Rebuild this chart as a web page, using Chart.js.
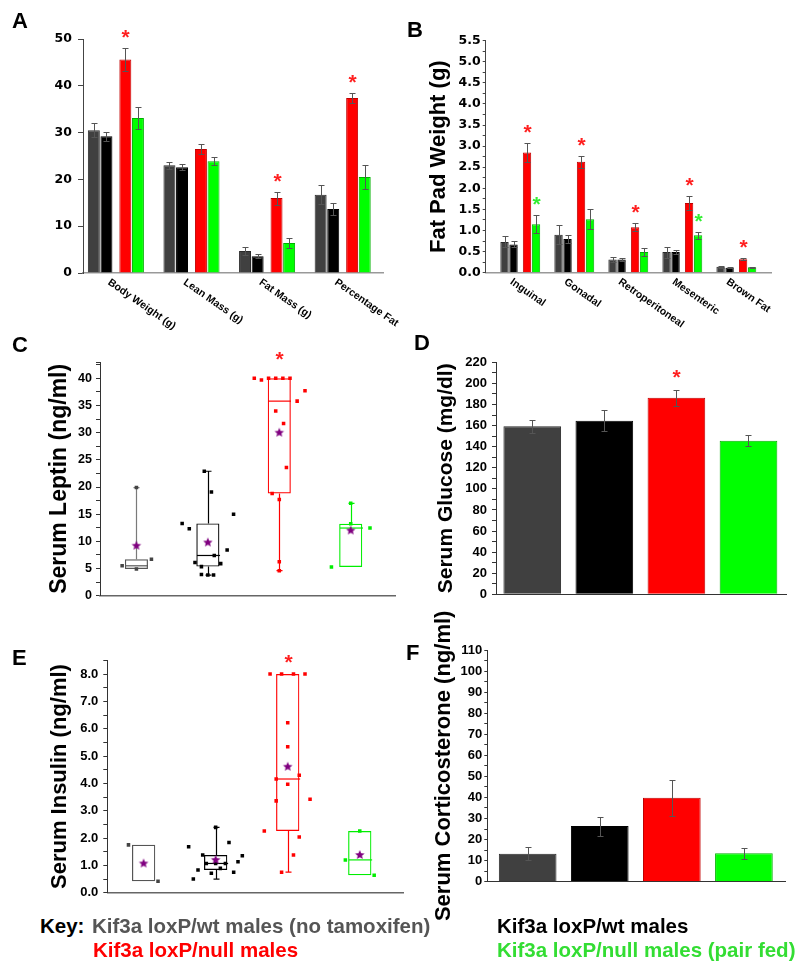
<!DOCTYPE html>
<html>
<head>
<meta charset="utf-8">
<script src="https://cdn.jsdelivr.net/npm/chart.js@4.4.0/dist/chart.umd.min.js"></script>
<style>
  body { margin: 0; background: #fff; }
  #fig { position: relative; width: 800px; height: 971px; overflow: hidden; font-family: Arial, 'Liberation Sans', sans-serif; }
  #fig canvas { position: absolute; }
  .panel { position: absolute; font-weight: bold; font-size: 22px; line-height: 1; }
  .key { position: absolute; font-weight: bold; font-size: 20.5px; line-height: 1; white-space: nowrap; }
</style>
</head>
<body>
<div id="fig">
  <canvas id="chartA" width="420" height="330" style="left:0;top:0"></canvas>
  <canvas id="chartB" width="400" height="330" style="left:400px;top:0"></canvas>
  <canvas id="chartC" width="400" height="280" style="left:0;top:330px"></canvas>
  <canvas id="chartD" width="400" height="280" style="left:400px;top:330px"></canvas>
  <canvas id="chartE" width="410" height="300" style="left:0;top:610px"></canvas>
  <canvas id="chartF" width="400" height="330" style="left:400px;top:610px"></canvas>

  <div class="panel" style="left:12px;top:10px">A</div>
  <div class="panel" style="left:407px;top:19px">B</div>
  <div class="panel" style="left:12px;top:334px">C</div>
  <div class="panel" style="left:414px;top:332px">D</div>
  <div class="panel" style="left:12px;top:647px">E</div>
  <div class="panel" style="left:406px;top:642px">F</div>

  <div class="key" style="left:40px;top:916px;color:#000">Key:</div>
  <div class="key" style="left:92px;top:916px;color:#555">Kif3a loxP/wt males (no tamoxifen)</div>
  <div class="key" style="left:497px;top:916px;color:#000">Kif3a loxP/wt males</div>
  <div class="key" style="left:93px;top:940px;color:#ff0000">Kif3a loxP/null males</div>
  <div class="key" style="left:497px;top:940px;color:#33dd33">Kif3a loxP/null males (pair fed)</div>
</div>

<script>
// groups: no tamoxifen, loxP/wt, loxP/null, loxP/null pair fed
const groups = ['Kif3a loxP/wt males (no tamoxifen)', 'Kif3a loxP/wt males', 'Kif3a loxP/null males', 'Kif3a loxP/null males (pair fed)'];

// A - body composition
const bodyCats = ['Body Weight (g)', 'Lean Mass (g)', 'Fat Mass (g)', 'Percentage Fat'];
const bodyMeans = [
  [30.5, 23.0, 4.7, 16.7],
  [29.2, 22.6, 3.6, 13.7],
  [45.6, 26.5, 16.0, 37.4],
  [33.1, 23.9, 6.4, 20.5]
];
const bodyErr = [
  [1.5, 0.7, 0.8, 2.0],
  [0.9, 0.6, 0.5, 1.3],
  [2.5, 1.1, 1.4, 1.1],
  [2.3, 0.9, 1.1, 2.5]
];
const bodySig = [[0, 0, 0, 0], [0, 0, 0, 0], [1, 0, 1, 1], [0, 0, 0, 0]];

// B - fat pads
const padCats = ['Inguinal', 'Gonadal', 'Retroperitoneal', 'Mesenteric', 'Brown Fat'];
const padMeans = [
  [0.73, 0.90, 0.31, 0.49, 0.14],
  [0.67, 0.80, 0.31, 0.49, 0.12],
  [2.85, 2.63, 1.08, 1.65, 0.32],
  [1.15, 1.27, 0.49, 0.89, 0.13]
];
const padErr = [
  [0.13, 0.22, 0.06, 0.13, 0.02],
  [0.07, 0.09, 0.04, 0.04, 0.01],
  [0.22, 0.14, 0.10, 0.16, 0.02],
  [0.22, 0.23, 0.09, 0.08, 0.01]
];
const padSig = [[0, 0, 0, 0, 0], [0, 0, 0, 0, 0], [1, 1, 1, 1, 1], [1, 0, 0, 1, 0]];

// C - leptin (box: q1, median, q3; whiskers: low, high)
const leptinBox = [[4.9, 5.5, 6.7], [5.35, 7.4, 13.3], [18.8, 35.8, 40.0], [5.3, 12.45, 13.25]];
const leptinWhisk = [[4.9, 19.9], [3.8, 22.9], [4.6, 40.0], [5.3, 17.0]];
const leptinMean = [9.2, 9.8, 30.0, 12.0];
const leptinPts = [
  [5.5, 4.9, 6.7, 19.9],
  [13.3, 12.3, 22.9, 19.1, 15.0, 8.4, 7.4, 6.1, 5.35, 5.9, 3.9, 3.8, 3.8],
  [40.0, 39.7, 40.0, 40.0, 40.0, 40.0, 37.7, 35.8, 34.0, 31.7, 23.6, 18.8, 17.7, 6.25, 4.6],
  [17.0, 13.25, 12.45, 5.3]
];
const leptinJitter = [
  [-0.2, 0, 0.21, 0],
  [-0.36, -0.26, -0.05, 0.05, 0.36, 0.27, 0.09, -0.18, -0.09, 0.18, -0.09, 0, 0.08],
  [-0.35, -0.25, -0.15, -0.05, 0.05, 0.15, 0.36, 0.25, -0.05, 0.06, 0.1, -0.1, 0, 0, 0],
  [0, 0, 0.27, -0.27]
];
const leptinSig = [0, 0, 1, 0];

// D - glucose
const glucoseMean = [159.3, 164.6, 186.4, 145.7];
const glucoseErr = [6.0, 10.0, 7.6, 5.3];
const glucoseSig = [0, 0, 1, 0];

// E - insulin
const insulinBox = [[0.42, null, 1.75], [0.83, 1.07, 1.38], [2.26, 4.16, 8.0], [0.64, 1.2, 2.26]];
const insulinWhisk = [[0.42, 1.75], [0.5, 2.39], [0.75, 8.0], [0.64, 2.26]];
const insulinMean = [1.07, 1.2, 4.61, 1.38];
const insulinPts = [
  [1.75, 0.42],
  [1.68, 0.5, 0.83, 1.38, 1.07, 0.71, 2.39, 1.07, 0.89, 1.07, 1.84, 0.75, 1.13, 1.35],
  [8.0, 8.0, 8.0, 8.0, 6.22, 5.34, 4.3, 4.16, 3.97, 3.36, 3.42, 2.26, 2.04, 1.38, 0.75],
  [2.26, 1.2, 0.64]
];
const insulinJitter = [
  [-0.21, 0.2],
  [-0.375, -0.31, -0.245, -0.18, -0.13, -0.06, 0, 0, 0.065, 0.135, 0.185, 0.25, 0.31, 0.37],
  [-0.245, -0.085, 0.08, 0.24, 0, 0, 0.16, -0.16, 0, -0.16, 0.31, -0.325, 0.16, 0.08, -0.085],
  [0, -0.2, 0.2]
];
const insulinSig = [0, 0, 1, 0];

// F - corticosterone
const corticoMean = [13.3, 26.4, 39.9, 13.5];
const corticoErr = [3.0, 4.5, 8.5, 2.5];

const FONT = "Arial, 'Liberation Sans', sans-serif";
const WIDE = "'DejaVu Sans', Arial, sans-serif";
const fills = ['#404040', '#000000', '#ff0000', '#00ff00'];
const edges = ['#2a2a2a', '#000000', '#c00000', '#00b000'];
const boxColors = ['#555555', '#000000', '#ff0000', '#00ee00'];
const whiskColors = ['#7a7a7a', '#000000', '#ff0000', '#00ee00'];
const sigColors = ['#ff0000', '#000000', '#ff2020', '#33ee33'];
const MEAN_COLOR = '#800080';
const PERIOD = 6;              // spacing between bar groups (A, B)
const OFFS = [0, 1, 2.5, 3.5]; // bar positions inside a group
const MID = 1.75;

Chart.defaults.animation = false;
Chart.defaults.responsive = false;
Chart.defaults.font.family = FONT;
Chart.defaults.plugins.legend.display = false;
Chart.defaults.plugins.tooltip.enabled = false;

function isMajor(v, major) {
  return Math.abs(v / major - Math.round(v / major)) < 1e-6;
}

function asterisk(ctx, x, cy, color) {
  ctx.save();
  ctx.fillStyle = color;
  ctx.font = 'bold 21px ' + FONT;
  ctx.textAlign = 'center';
  ctx.textBaseline = 'alphabetic';
  ctx.fillText('*', x, cy + 11.5);
  ctx.restore();
}

function makeStar(r, color) {
  const c = document.createElement('canvas');
  c.width = c.height = Math.ceil(2 * r + 2);
  const g = c.getContext('2d');
  g.fillStyle = color;
  g.beginPath();
  for (let k = 0; k < 10; k++) {
    const rr = k % 2 ? r * 0.45 : r;
    const a = -Math.PI / 2 + k * Math.PI / 5;
    g.lineTo(c.width / 2 + rr * Math.cos(a), c.height / 2 + rr * Math.sin(a));
  }
  g.closePath();
  g.fill();
  return c;
}
const meanStar = makeStar(5, MEAN_COLOR);

function yAxis(o) {
  return {
    min: 0, max: o.max, bounds: 'data',
    afterFit: s => { s.width = o.width; },
    border: { color: o.border || '#333', width: 1 },
    grid: { drawOnChartArea: false, drawTicks: true, tickLength: o.tl, color: o.border || '#333' },
    ticks: {
      stepSize: o.step, autoSkip: false, includeBounds: false, padding: o.pad, color: '#000',
      font: { family: o.family || FONT, size: o.size, weight: 'bold' },
      callback: v => isMajor(v, o.major) ? v.toFixed(o.dec) : ''
    },
    title: o.title ? {
      display: true, text: o.title, color: '#000',
      font: { family: FONT, size: o.tsize, weight: 'bold' },
      padding: { top: o.tpad, bottom: 0 }
    } : { display: false }
  };
}

function xAxis(o) {
  return {
    type: 'linear', min: o.min, max: o.max, offset: false, bounds: 'data',
    afterFit: s => { s.height = o.height; },
    afterBuildTicks: s => { s.ticks = o.at.map(v => ({ value: v })); },
    grid: { display: false },
    border: { color: o.color || '#333', width: o.bw || 1 },
    ticks: { display: false }
  };
}

// error bars + significance asterisks for bar datasets
const errorBars = {
  id: 'errorBars',
  afterDatasetsDraw(chart, args, o) {
    const { ctx, scales: { x, y } } = chart;
    ctx.save();
    ctx.strokeStyle = o.color;
    ctx.lineWidth = 1;
    chart.data.datasets.forEach(ds => {
      if (!ds.err) return;
      ds.data.forEach((pt, j) => {
        const e = ds.err[j];
        const px = Math.round(x.getPixelForValue(pt.x)) + 0.5;
        const top = Math.round(y.getPixelForValue(pt.y + e)) + 0.5;
        const bot = Math.round(y.getPixelForValue(pt.y - e)) + 0.5;
        ctx.beginPath();
        ctx.moveTo(px, top); ctx.lineTo(px, bot);
        ctx.moveTo(px - o.cap, top); ctx.lineTo(px + o.cap, top);
        ctx.moveTo(px - o.cap, bot); ctx.lineTo(px + o.cap, bot);
        ctx.stroke();
        const s = ds.sig && ds.sig[j];
        if (s) asterisk(ctx, px, top - o.gap, Array.isArray(ds.sigColor) ? ds.sigColor[j] : ds.sigColor);
      });
    });
    ctx.restore();
  }
};

// slanted category names under grouped bars
const slantLabels = {
  id: 'slantLabels',
  afterDraw(chart, args, o) {
    const { ctx, scales: { x }, chartArea } = chart;
    ctx.save();
    ctx.font = 'bold ' + o.size + 'px ' + FONT;
    ctx.fillStyle = '#000';
    ctx.textAlign = 'left';
    ctx.textBaseline = 'top';
    o.labels.forEach((t, i) => {
      const px = x.getPixelForValue(i * PERIOD + MID);
      ctx.save();
      ctx.translate(px + o.dx, chartArea.bottom + o.dy);
      ctx.rotate(35 * Math.PI / 180);
      ctx.fillText(t, 0, 0);
      ctx.restore();
    });
    ctx.restore();
  }
};

// medians, whiskers and significance for box plots
const boxLines = {
  id: 'boxLines',
  beforeDatasetsDraw(chart, args, o) {
    const { ctx, scales: { y } } = chart;
    const bars = chart.getDatasetMeta(0).data;
    ctx.save();
    ctx.lineWidth = 1.2;
    o.box.forEach((b, g) => {
      const el = bars[g];
      const cx = Math.round(el.x) + 0.5, hw = el.width / 2;
      const [lo, hi] = o.whisk[g];
      ctx.strokeStyle = boxColors[g];
      if (b[1] !== null) {
        const my = y.getPixelForValue(b[1]);
        ctx.beginPath(); ctx.moveTo(cx - hw, my); ctx.lineTo(cx + hw, my); ctx.stroke();
      }
      ctx.strokeStyle = whiskColors[g];
      ctx.beginPath();
      if (hi > b[2]) {
        const yh = y.getPixelForValue(hi);
        ctx.moveTo(cx, y.getPixelForValue(b[2])); ctx.lineTo(cx, yh);
        ctx.moveTo(cx - 3, yh); ctx.lineTo(cx + 3, yh);
      }
      if (lo < b[0]) {
        const yl = y.getPixelForValue(lo);
        ctx.moveTo(cx, y.getPixelForValue(b[0])); ctx.lineTo(cx, yl);
        ctx.moveTo(cx - 3, yl); ctx.lineTo(cx + 3, yl);
      }
      ctx.stroke();
      if (o.sig[g]) {
        const top = y.getPixelForValue(Math.max(hi, b[2]));
        asterisk(ctx, cx, top - o.gap, sigColors[g]);
      }
    });
    ctx.restore();
  }
};

function groupedBars(means, errs, sigs, bp) {
  return means.map((m, g) => ({
    data: m.map((v, c) => ({ x: c * PERIOD + OFFS[g], y: v })),
    err: errs[g], sig: sigs[g], sigColor: sigColors[g],
    backgroundColor: fills[g], borderColor: edges[g], borderWidth: 1,
    grouped: false, categoryPercentage: 1, barPercentage: bp
  }));
}

function simpleBars(mean, err, sig) {
  return [{
    data: mean.map((v, g) => ({ x: g, y: v })),
    err: err, sig: sig, sigColor: sigColors,
    backgroundColor: fills, borderColor: edges, borderWidth: 1,
    grouped: false, categoryPercentage: 1, barPercentage: 0.8
  }];
}

function boxSets(box, pts, jitter, mean) {
  const sets = [{
    type: 'bar',
    data: box.map((b, g) => ({ x: g, y: [b[0], b[2]] })),
    backgroundColor: 'rgba(0,0,0,0)', borderColor: boxColors, borderWidth: 1.2, borderSkipped: false,
    grouped: false, categoryPercentage: 1, barPercentage: 0.323, order: 3
  }];
  pts.forEach((p, g) => sets.push({
    type: 'scatter',
    data: p.map((v, k) => ({ x: g + jitter[g][k], y: v })),
    pointStyle: 'rect', pointRadius: 2.5, pointBorderWidth: 0,
    pointBackgroundColor: g === 0 ? '#444' : boxColors[g], order: 2
  }));
  sets.push({
    type: 'scatter',
    data: mean.map((v, g) => ({ x: g, y: v })),
    pointStyle: meanStar, pointRadius: 4, order: 1
  });
  return sets;
}

const groupMids = n => Array.from({ length: n }, (_, i) => i * PERIOD + MID);

// A
new Chart(document.getElementById('chartA'), {
  type: 'bar',
  data: { datasets: groupedBars(bodyMeans, bodyErr, bodySig, 0.95) },
  options: {
    layout: { padding: { left: 0, top: 39, right: 37, bottom: 0 } },
    scales: {
      x: xAxis({ min: -0.86, max: 22.95, at: groupMids(bodyCats.length), height: 57, color: '#999', bw: 1.5 }),
      y: yAxis({ max: 50, step: 10, major: 10, dec: 0, width: 83, tl: 5, pad: 6, size: 12.5, family: WIDE, border: '#444' })
    },
    plugins: {
      errorBars: { cap: 3, gap: 16, color: '#555' },
      slantLabels: { labels: bodyCats, dx: -4, dy: 4, size: 10.5 }
    }
  },
  plugins: [errorBars, slantLabels]
});

// B
new Chart(document.getElementById('chartB'), {
  type: 'bar',
  data: { datasets: groupedBars(padMeans, padErr, padSig, 0.93) },
  options: {
    layout: { padding: { left: 0, top: 40.7, right: 29, bottom: 0 } },
    scales: {
      x: xAxis({ min: -2.09, max: 29.6, at: groupMids(padCats.length), height: 57.3, color: '#999', bw: 1.5 }),
      y: yAxis({ max: 5.5, step: 0.25, major: 0.5, dec: 1, width: 85.7, tl: 3, pad: 2, size: 12.5, family: WIDE, border: '#444',
        title: 'Fat Pad Weight (g)', tsize: 22, tpad: 26 })
    },
    plugins: {
      errorBars: { cap: 3, gap: 16, color: '#555' },
      slantLabels: { labels: padCats, dx: -6, dy: 4, size: 10.5 }
    }
  },
  plugins: [errorBars, slantLabels]
});

// C
new Chart(document.getElementById('chartC'), {
  type: 'bar',
  data: { datasets: boxSets(leptinBox, leptinPts, leptinJitter, leptinMean) },
  options: {
    layout: { padding: { left: 0, top: 32, right: 2, bottom: 0 } },
    scales: {
      x: xAxis({ min: -0.51, max: 3.62, at: [0, 1, 2, 3], height: 14.3, color: '#666', bw: 1.5 }),
      y: yAxis({ max: 43, step: 2.5, major: 5, dec: 0, width: 100, tl: 4, pad: 4, size: 12.5,
        title: 'Serum Leptin (ng/ml)', tsize: 23, tpad: 46.2 })
    },
    plugins: { boxLines: { box: leptinBox, whisk: leptinWhisk, sig: leptinSig, gap: 24 } }
  },
  plugins: [boxLines]
});

// D
new Chart(document.getElementById('chartD'), {
  type: 'bar',
  data: { datasets: simpleBars(glucoseMean, glucoseErr, glucoseSig) },
  options: {
    layout: { padding: { left: 0, top: 32.3, right: 13.3, bottom: 0 } },
    scales: {
      x: xAxis({ min: -0.503, max: 3.53, at: [0, 1, 2, 3], height: 15.7, color: '#333', bw: 1 }),
      y: yAxis({ max: 220, step: 10, major: 20, dec: 0, width: 96, tl: 4, pad: 5, size: 13,
        title: 'Serum Glucose (mg/dl)', tsize: 21, tpad: 33.2 })
    },
    plugins: { errorBars: { cap: 3, gap: 18, color: '#555' } }
  },
  plugins: [errorBars]
});

// E
new Chart(document.getElementById('chartE'), {
  type: 'bar',
  data: { datasets: boxSets(insulinBox, insulinPts, insulinJitter, insulinMean) },
  options: {
    layout: { padding: { left: 0, top: 50.4, right: 7, bottom: 0 } },
    scales: {
      x: xAxis({ min: -0.504, max: 3.6, at: [0, 1, 2, 3], height: 17.3, color: '#666', bw: 1.5 }),
      y: yAxis({ max: 8.5, step: 0.5, major: 1, dec: 1, width: 107.3, tl: 4, pad: 5, size: 13,
        title: 'Serum Insulin (ng/ml)', tsize: 22, tpad: 46.8 })
    },
    plugins: { boxLines: { box: insulinBox, whisk: insulinWhisk, sig: insulinSig, gap: 17 } }
  },
  plugins: [boxLines]
});

// F
new Chart(document.getElementById('chartF'), {
  type: 'bar',
  data: { datasets: simpleBars(corticoMean, corticoErr, [0, 0, 0, 0]) },
  options: {
    layout: { padding: { left: 0, top: 40, right: 15, bottom: 0 } },
    scales: {
      x: xAxis({ min: -0.56, max: 3.57, at: [0, 1, 2, 3], height: 58.3, color: '#333', bw: 1 }),
      y: yAxis({ max: 110, step: 5, major: 10, dec: 0, width: 87.3, tl: 3, pad: 2, size: 13,
        title: 'Serum Corticosterone (ng/ml)', tsize: 22, tpad: 30.8 })
    },
    plugins: { errorBars: { cap: 3, gap: 16, color: '#555' } }
  },
  plugins: [errorBars]
});
</script>
</body>
</html>
